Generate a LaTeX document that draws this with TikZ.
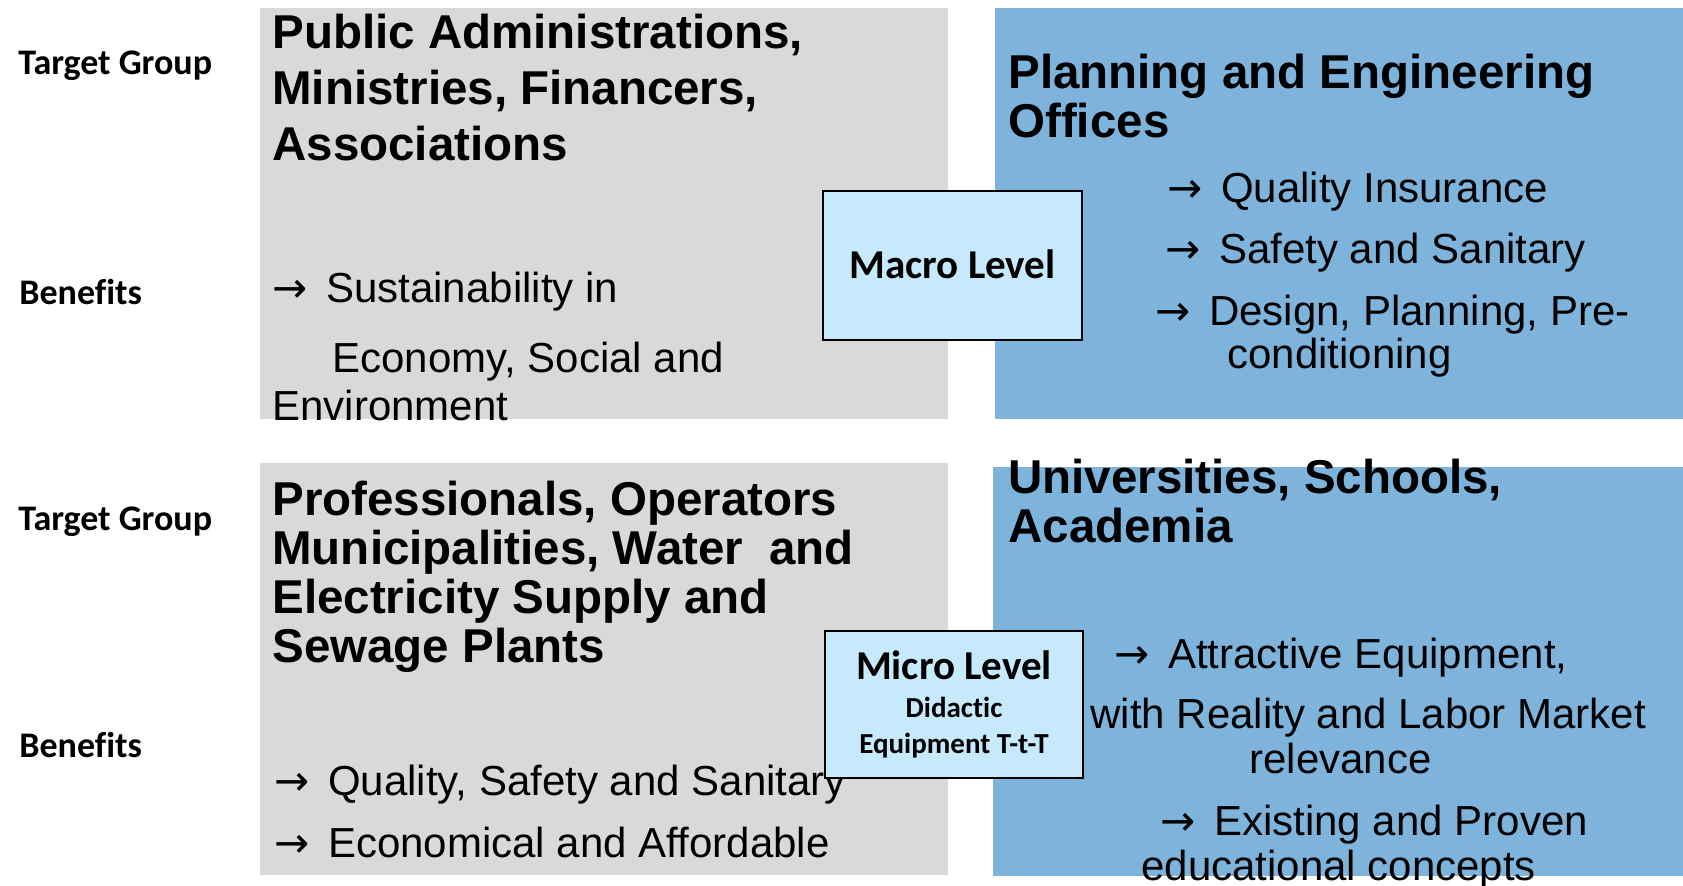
\documentclass[tikz,border=0pt]{standalone}
\usepackage{fontspec}
\setmainfont{Liberation Sans}
\newfontfamily\calibri[Ligatures=NoCommon]{Carlito}
\newfontfamily\arrowfont{DejaVu Sans}
\newcommand\arr{{\arrowfont →}\hspace{3.5pt}}
\usepackage{tikz}
\usetikzlibrary{positioning}

\definecolor{boxgrey}{HTML}{D9D9D9}
\definecolor{boxblue}{HTML}{7EB3DC}
\definecolor{levelblue}{HTML}{C6E9FB}

\begin{document}
\begin{tikzpicture}[x=0.5pt,y=-0.5pt,
	panel/.style={inner sep=0pt, minimum width=344pt, minimum height=205.5pt},
	head/.style={anchor=base west, inner sep=0pt, font=\fontsize{23.75}{28}\selectfont\bfseries},
	txt/.style={anchor=base west, inner sep=0pt, font=\fontsize{21}{25}\selectfont},
	rowlabel/.style={anchor=base west, inner sep=0pt, font=\calibri\bfseries\fontsize{18}{22}\selectfont},
	levelbox/.style={draw=black, line width=1pt, fill=levelblue, inner sep=0pt, minimum width=129.5pt, minimum height=74.5pt},
	leveltext/.style={anchor=base, inner sep=0pt, font=\calibri\bfseries\fontsize{20.5}{24}\selectfont},
	smalltext/.style={anchor=base, inner sep=0pt, font=\calibri\bfseries\fontsize{14.5}{17}\selectfont}]
	\useasboundingbox (0,0) rectangle (1683,885);

	\node [panel, fill=boxgrey] (macroleft) at (604,213.5) {};
	\node [panel, fill=boxblue] (macroright) at (1339,213.5) {};
	\node [panel, fill=boxgrey, minimum height=206pt] (microleft) at (604,669) {};
	\node [panel, fill=boxblue, minimum width=345pt, minimum height=204.5pt] (microright) at (1338,671.5) {};

	\node [rowlabel] (tg1) at (18,74) {Target Group};
	\node [rowlabel] (bn1) at (19,304) {Benefits};
	\node [rowlabel] (tg2) at (18,530) {Target Group};
	\node [rowlabel] (bn2) at (19,757) {Benefits};

	\node [head] (pub1) at (272,48) {Public Administrations,};
	\node [head] (pub2) at (272,104) {Ministries, Financers,};
	\node [head] (pub3) at (272,160) {Associations};
	\node [txt] (sus1) at (272,302) {\arr\ Sustainability in};
	\node [txt] (sus2) at (332,372) {Economy, Social and};
	\node [txt] (sus3) at (272,420) {Environment};

	\node [head] (plan1) at (1008,88) {Planning and Engineering};
	\node [head] (plan2) at (1008,137) {Offices};
	\node [txt] (qual) at (1167,202) {\arr\ Quality Insurance};
	\node [txt] (safe) at (1165,263) {\arr\ Safety and Sanitary};
	\node [txt] (des1) at (1155,325) {\arr\ Design, Planning, Pre-};
	\node [txt] (des2) at (1227,368) {conditioning};

	\node [head] (pro1) at (272,515) {Professionals, Operators};
	\node [head] (pro2) at (272,564) {Municipalities, Water\ \ and};
	\node [head] (pro3) at (272,613) {Electricity Supply and};
	\node [head] (pro4) at (272,662) {Sewage Plants};
	\node [txt] (qss) at (274,795) {\arr\ Quality, Safety and Sanitary};
	\node [txt] (eco) at (274,857) {\arr\ Economical and Affordable};

	\node [head] (uni1) at (1008,493) {Universities, Schools,};
	\node [head] (uni2) at (1008,542) {Academia};
	\node [txt] (att1) at (1114,668) {\arr\ Attractive Equipment,};
	\node [txt] (att2) at (1090,728) {with Reality and Labor Market};
	\node [txt] (att3) at (1249,773) {relevance};
	\node [txt] (exi1) at (1160,835) {\arr\ Existing and Proven};
	\node [txt] (exi2) at (1141,880) {educational concepts};

	\node [levelbox] (macro) at (952.5,265.5) {};
	\node [leveltext] (macrolbl) at (952.5,278) {Macro Level};
	\node [levelbox, minimum width=129pt, minimum height=73.5pt] (micro) at (954,704.5) {};
	\node [leveltext] (microlbl) at (954,679) {Micro Level};
	\node [smalltext] (did1) at (954,717) {Didactic};
	\node [smalltext] (did2) at (954,753) {Equipment T-t-T};

\end{tikzpicture}
\end{document}
